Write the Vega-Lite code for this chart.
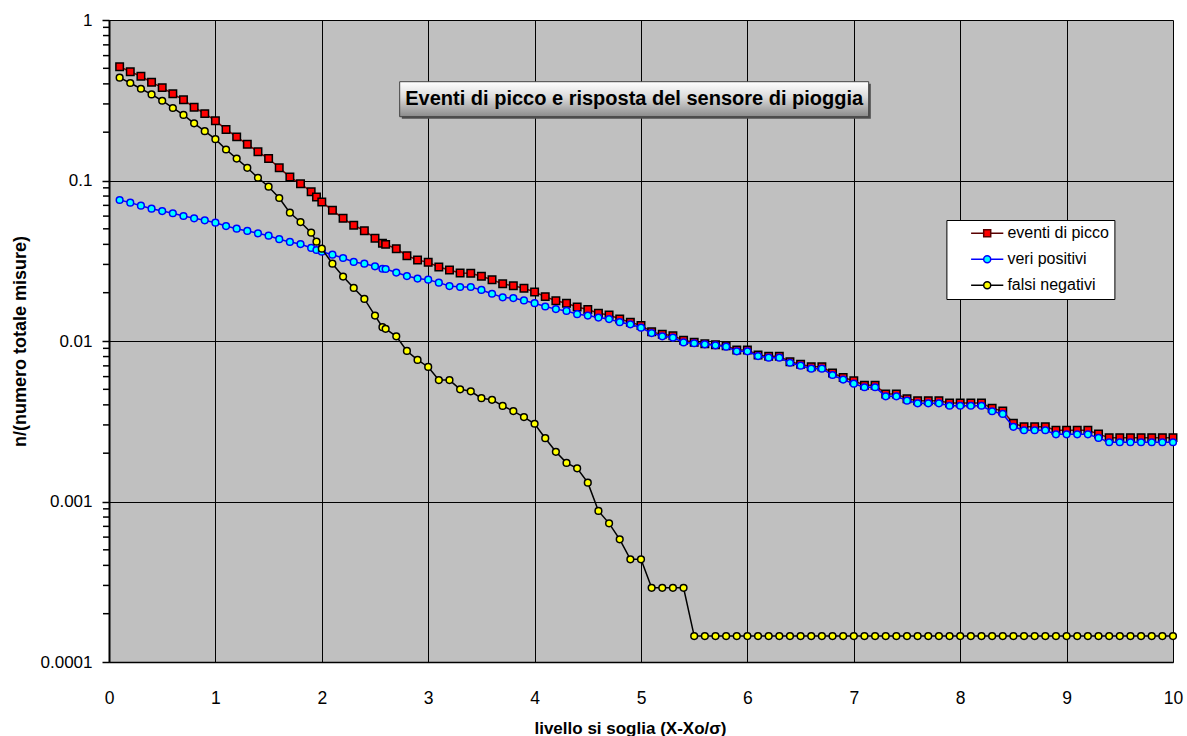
{
"$schema": "https://vega.github.io/schema/vega-lite/v6.json",
"width": 1064, "height": 642,
"autosize": {"type": "none"},
"padding": {"left": 109, "top": 20, "right": 14, "bottom": 74},
"background": "white",
"config": {"view": {"fill": "#C0C0C0", "stroke": null}, "font": "Liberation Sans"},
"datasets": {
"minor": [{"v":0.0002},{"v":0.0003},{"v":0.0004},{"v":0.0005},{"v":0.0006},{"v":0.0007},{"v":0.0008},{"v":0.0009},{"v":0.002},{"v":0.003},{"v":0.004},{"v":0.005},{"v":0.006},{"v":0.007},{"v":0.008},{"v":0.009},{"v":0.02},{"v":0.03},{"v":0.04},{"v":0.05},{"v":0.06},{"v":0.07},{"v":0.08},{"v":0.09},{"v":0.2},{"v":0.3},{"v":0.4},{"v":0.5},{"v":0.6},{"v":0.7},{"v":0.8},{"v":0.9}],
"note": [{"t": "Eventi di picco e risposta del sensore di pioggia", "s": "eventi di picco"}]
},
"data": {"values": [
{"x":0.1,"s":"eventi di picco","v":0.512},{"x":0.2,"s":"eventi di picco","v":0.476},{"x":0.3,"s":"eventi di picco","v":0.446},{"x":0.4,"s":"eventi di picco","v":0.409},{"x":0.5,"s":"eventi di picco","v":0.379},{"x":0.6,"s":"eventi di picco","v":0.347},{"x":0.7,"s":"eventi di picco","v":0.318},{"x":0.8,"s":"eventi di picco","v":0.286},{"x":0.9,"s":"eventi di picco","v":0.261},{"x":1.0,"s":"eventi di picco","v":0.236},
{"x":1.1,"s":"eventi di picco","v":0.208},{"x":1.2,"s":"eventi di picco","v":0.187},{"x":1.3,"s":"eventi di picco","v":0.168},{"x":1.4,"s":"eventi di picco","v":0.151},{"x":1.5,"s":"eventi di picco","v":0.137},{"x":1.6,"s":"eventi di picco","v":0.120},{"x":1.7,"s":"eventi di picco","v":0.105},{"x":1.8,"s":"eventi di picco","v":0.0955},{"x":1.9,"s":"eventi di picco","v":0.0851},{"x":1.95,"s":"eventi di picco","v":0.0789},{"x":2.0,"s":"eventi di picco","v":0.0735},
{"x":2.1,"s":"eventi di picco","v":0.0652},{"x":2.2,"s":"eventi di picco","v":0.0581},{"x":2.3,"s":"eventi di picco","v":0.0526},{"x":2.4,"s":"eventi di picco","v":0.0487},{"x":2.5,"s":"eventi di picco","v":0.0437},{"x":2.57,"s":"eventi di picco","v":0.0406},{"x":2.6,"s":"eventi di picco","v":0.0400},{"x":2.7,"s":"eventi di picco","v":0.0376},{"x":2.8,"s":"eventi di picco","v":0.0340},{"x":2.9,"s":"eventi di picco","v":0.0320},{"x":3.0,"s":"eventi di picco","v":0.0309},
{"x":3.1,"s":"eventi di picco","v":0.0289},{"x":3.2,"s":"eventi di picco","v":0.0277},{"x":3.3,"s":"eventi di picco","v":0.0265},{"x":3.4,"s":"eventi di picco","v":0.0264},{"x":3.5,"s":"eventi di picco","v":0.0253},{"x":3.6,"s":"eventi di picco","v":0.0241},{"x":3.7,"s":"eventi di picco","v":0.0227},{"x":3.8,"s":"eventi di picco","v":0.0221},{"x":3.9,"s":"eventi di picco","v":0.0213},{"x":4.0,"s":"eventi di picco","v":0.0202},
{"x":4.1,"s":"eventi di picco","v":0.0189},{"x":4.2,"s":"eventi di picco","v":0.0178},{"x":4.3,"s":"eventi di picco","v":0.0172},{"x":4.4,"s":"eventi di picco","v":0.0163},{"x":4.5,"s":"eventi di picco","v":0.0157},{"x":4.6,"s":"eventi di picco","v":0.0149},{"x":4.7,"s":"eventi di picco","v":0.0145},{"x":4.8,"s":"eventi di picco","v":0.0137},{"x":4.9,"s":"eventi di picco","v":0.0131},{"x":5.0,"s":"eventi di picco","v":0.0125},
{"x":5.1,"s":"eventi di picco","v":0.0114},{"x":5.2,"s":"eventi di picco","v":0.0110},{"x":5.3,"s":"eventi di picco","v":0.0108},{"x":5.4,"s":"eventi di picco","v":0.0101},{"x":5.5,"s":"eventi di picco","v":0.00981},{"x":5.6,"s":"eventi di picco","v":0.00962},{"x":5.7,"s":"eventi di picco","v":0.00948},{"x":5.8,"s":"eventi di picco","v":0.00935},{"x":5.9,"s":"eventi di picco","v":0.00879},{"x":6.0,"s":"eventi di picco","v":0.00879},
{"x":6.1,"s":"eventi di picco","v":0.00818},{"x":6.2,"s":"eventi di picco","v":0.00803},{"x":6.3,"s":"eventi di picco","v":0.00803},{"x":6.4,"s":"eventi di picco","v":0.00743},{"x":6.5,"s":"eventi di picco","v":0.00716},{"x":6.6,"s":"eventi di picco","v":0.00692},{"x":6.7,"s":"eventi di picco","v":0.00692},{"x":6.8,"s":"eventi di picco","v":0.00632},{"x":6.9,"s":"eventi di picco","v":0.00593},{"x":7.0,"s":"eventi di picco","v":0.00565},
{"x":7.1,"s":"eventi di picco","v":0.0053},{"x":7.2,"s":"eventi di picco","v":0.0053},{"x":7.3,"s":"eventi di picco","v":0.00468},{"x":7.4,"s":"eventi di picco","v":0.00468},{"x":7.5,"s":"eventi di picco","v":0.00437},{"x":7.6,"s":"eventi di picco","v":0.00425},{"x":7.7,"s":"eventi di picco","v":0.00425},{"x":7.8,"s":"eventi di picco","v":0.00425},{"x":7.9,"s":"eventi di picco","v":0.00411},{"x":8.0,"s":"eventi di picco","v":0.00411},
{"x":8.1,"s":"eventi di picco","v":0.00411},{"x":8.2,"s":"eventi di picco","v":0.00411},{"x":8.3,"s":"eventi di picco","v":0.00381},{"x":8.4,"s":"eventi di picco","v":0.00366},{"x":8.5,"s":"eventi di picco","v":0.00307},{"x":8.6,"s":"eventi di picco","v":0.00292},{"x":8.7,"s":"eventi di picco","v":0.00292},{"x":8.8,"s":"eventi di picco","v":0.00292},{"x":8.9,"s":"eventi di picco","v":0.00278},{"x":9.0,"s":"eventi di picco","v":0.00278},
{"x":9.1,"s":"eventi di picco","v":0.00278},{"x":9.2,"s":"eventi di picco","v":0.00278},{"x":9.3,"s":"eventi di picco","v":0.00263},{"x":9.4,"s":"eventi di picco","v":0.0025},{"x":9.5,"s":"eventi di picco","v":0.0025},{"x":9.6,"s":"eventi di picco","v":0.0025},{"x":9.7,"s":"eventi di picco","v":0.0025},{"x":9.8,"s":"eventi di picco","v":0.0025},{"x":9.9,"s":"eventi di picco","v":0.0025},{"x":10.0,"s":"eventi di picco","v":0.0025},

{"x":0.1,"s":"veri positivi","v":0.0756},{"x":0.2,"s":"veri positivi","v":0.0728},{"x":0.3,"s":"veri positivi","v":0.0697},{"x":0.4,"s":"veri positivi","v":0.0667},{"x":0.5,"s":"veri positivi","v":0.0645},{"x":0.6,"s":"veri positivi","v":0.0625},{"x":0.7,"s":"veri positivi","v":0.0601},{"x":0.8,"s":"veri positivi","v":0.0581},{"x":0.9,"s":"veri positivi","v":0.0565},{"x":1.0,"s":"veri positivi","v":0.0546},
{"x":1.1,"s":"veri positivi","v":0.0520},{"x":1.2,"s":"veri positivi","v":0.0501},{"x":1.3,"s":"veri positivi","v":0.0485},{"x":1.4,"s":"veri positivi","v":0.0469},{"x":1.5,"s":"veri positivi","v":0.0453},{"x":1.6,"s":"veri positivi","v":0.0431},{"x":1.7,"s":"veri positivi","v":0.0414},{"x":1.8,"s":"veri positivi","v":0.0402},{"x":1.9,"s":"veri positivi","v":0.0380},{"x":1.95,"s":"veri positivi","v":0.0369},{"x":2.0,"s":"veri positivi","v":0.0360},
{"x":2.1,"s":"veri positivi","v":0.0345},{"x":2.2,"s":"veri positivi","v":0.0329},{"x":2.3,"s":"veri positivi","v":0.0311},{"x":2.4,"s":"veri positivi","v":0.0303},{"x":2.5,"s":"veri positivi","v":0.0292},{"x":2.57,"s":"veri positivi","v":0.0282},{"x":2.6,"s":"veri positivi","v":0.0281},{"x":2.7,"s":"veri positivi","v":0.0267},{"x":2.8,"s":"veri positivi","v":0.0254},{"x":2.9,"s":"veri positivi","v":0.0245},{"x":3.0,"s":"veri positivi","v":0.0241},
{"x":3.1,"s":"veri positivi","v":0.0231},{"x":3.2,"s":"veri positivi","v":0.0220},{"x":3.3,"s":"veri positivi","v":0.0217},{"x":3.4,"s":"veri positivi","v":0.0217},{"x":3.5,"s":"veri positivi","v":0.0208},{"x":3.6,"s":"veri positivi","v":0.0197},{"x":3.7,"s":"veri positivi","v":0.0187},{"x":3.8,"s":"veri positivi","v":0.0185},{"x":3.9,"s":"veri positivi","v":0.0179},{"x":4.0,"s":"veri positivi","v":0.0172},
{"x":4.1,"s":"veri positivi","v":0.0164},{"x":4.2,"s":"veri positivi","v":0.0158},{"x":4.3,"s":"veri positivi","v":0.0154},{"x":4.4,"s":"veri positivi","v":0.0147},{"x":4.5,"s":"veri positivi","v":0.0144},{"x":4.6,"s":"veri positivi","v":0.0140},{"x":4.7,"s":"veri positivi","v":0.0137},{"x":4.8,"s":"veri positivi","v":0.0131},{"x":4.9,"s":"veri positivi","v":0.0127},{"x":5.0,"s":"veri positivi","v":0.0121},
{"x":5.1,"s":"veri positivi","v":0.0112},{"x":5.2,"s":"veri positivi","v":0.0107},{"x":5.3,"s":"veri positivi","v":0.0105},{"x":5.4,"s":"veri positivi","v":0.0098},{"x":5.5,"s":"veri positivi","v":0.00968},{"x":5.6,"s":"veri positivi","v":0.00953},{"x":5.7,"s":"veri positivi","v":0.00940},{"x":5.8,"s":"veri positivi","v":0.00922},{"x":5.9,"s":"veri positivi","v":0.00862},{"x":6.0,"s":"veri positivi","v":0.00862},
{"x":6.1,"s":"veri positivi","v":0.00806},{"x":6.2,"s":"veri positivi","v":0.00787},{"x":6.3,"s":"veri positivi","v":0.00787},{"x":6.4,"s":"veri positivi","v":0.00732},{"x":6.5,"s":"veri positivi","v":0.00702},{"x":6.6,"s":"veri positivi","v":0.00672},{"x":6.7,"s":"veri positivi","v":0.00672},{"x":6.8,"s":"veri positivi","v":0.00614},{"x":6.9,"s":"veri positivi","v":0.00575},{"x":7.0,"s":"veri positivi","v":0.00542},
{"x":7.1,"s":"veri positivi","v":0.00515},{"x":7.2,"s":"veri positivi","v":0.00515},{"x":7.3,"s":"veri positivi","v":0.00452},{"x":7.4,"s":"veri positivi","v":0.00452},{"x":7.5,"s":"veri positivi","v":0.00425},{"x":7.6,"s":"veri positivi","v":0.00409},{"x":7.7,"s":"veri positivi","v":0.00409},{"x":7.8,"s":"veri positivi","v":0.00409},{"x":7.9,"s":"veri positivi","v":0.00395},{"x":8.0,"s":"veri positivi","v":0.00395},
{"x":8.1,"s":"veri positivi","v":0.00395},{"x":8.2,"s":"veri positivi","v":0.00395},{"x":8.3,"s":"veri positivi","v":0.00365},{"x":8.4,"s":"veri positivi","v":0.00351},{"x":8.5,"s":"veri positivi","v":0.00292},{"x":8.6,"s":"veri positivi","v":0.00278},{"x":8.7,"s":"veri positivi","v":0.00278},{"x":8.8,"s":"veri positivi","v":0.00278},{"x":8.9,"s":"veri positivi","v":0.00262},{"x":9.0,"s":"veri positivi","v":0.00262},
{"x":9.1,"s":"veri positivi","v":0.00262},{"x":9.2,"s":"veri positivi","v":0.00262},{"x":9.3,"s":"veri positivi","v":0.00249},{"x":9.4,"s":"veri positivi","v":0.00234},{"x":9.5,"s":"veri positivi","v":0.00234},{"x":9.6,"s":"veri positivi","v":0.00234},{"x":9.7,"s":"veri positivi","v":0.00234},{"x":9.8,"s":"veri positivi","v":0.00234},{"x":9.9,"s":"veri positivi","v":0.00234},{"x":10.0,"s":"veri positivi","v":0.00234},

{"x":0.1,"s":"falsi negativi","v":0.437},{"x":0.2,"s":"falsi negativi","v":0.405},{"x":0.3,"s":"falsi negativi","v":0.373},{"x":0.4,"s":"falsi negativi","v":0.344},{"x":0.5,"s":"falsi negativi","v":0.314},{"x":0.6,"s":"falsi negativi","v":0.283},{"x":0.7,"s":"falsi negativi","v":0.256},{"x":0.8,"s":"falsi negativi","v":0.227},{"x":0.9,"s":"falsi negativi","v":0.203},{"x":1.0,"s":"falsi negativi","v":0.181},
{"x":1.1,"s":"falsi negativi","v":0.156},{"x":1.2,"s":"falsi negativi","v":0.137},{"x":1.3,"s":"falsi negativi","v":0.120},{"x":1.4,"s":"falsi negativi","v":0.104},{"x":1.5,"s":"falsi negativi","v":0.0915},{"x":1.6,"s":"falsi negativi","v":0.0778},{"x":1.7,"s":"falsi negativi","v":0.063},{"x":1.8,"s":"falsi negativi","v":0.0551},{"x":1.9,"s":"falsi negativi","v":0.0473},{"x":1.95,"s":"falsi negativi","v":0.0416},{"x":2.0,"s":"falsi negativi","v":0.0376},
{"x":2.1,"s":"falsi negativi","v":0.0303},{"x":2.2,"s":"falsi negativi","v":0.0252},{"x":2.3,"s":"falsi negativi","v":0.0214},{"x":2.4,"s":"falsi negativi","v":0.0183},{"x":2.5,"s":"falsi negativi","v":0.0144},{"x":2.57,"s":"falsi negativi","v":0.0122},{"x":2.6,"s":"falsi negativi","v":0.0119},{"x":2.7,"s":"falsi negativi","v":0.0107},{"x":2.8,"s":"falsi negativi","v":0.00867},{"x":2.9,"s":"falsi negativi","v":0.00762},{"x":3.0,"s":"falsi negativi","v":0.00689},
{"x":3.1,"s":"falsi negativi","v":0.00571},{"x":3.2,"s":"falsi negativi","v":0.00571},{"x":3.3,"s":"falsi negativi","v":0.0050},{"x":3.4,"s":"falsi negativi","v":0.00486},{"x":3.5,"s":"falsi negativi","v":0.0044},{"x":3.6,"s":"falsi negativi","v":0.0043},{"x":3.7,"s":"falsi negativi","v":0.00394},{"x":3.8,"s":"falsi negativi","v":0.00366},{"x":3.9,"s":"falsi negativi","v":0.00336},{"x":4.0,"s":"falsi negativi","v":0.00305},
{"x":4.1,"s":"falsi negativi","v":0.00248},{"x":4.2,"s":"falsi negativi","v":0.00204},{"x":4.3,"s":"falsi negativi","v":0.00174},{"x":4.4,"s":"falsi negativi","v":0.00161},{"x":4.5,"s":"falsi negativi","v":0.00131},{"x":4.6,"s":"falsi negativi","v":0.000873},{"x":4.7,"s":"falsi negativi","v":0.000731},{"x":4.8,"s":"falsi negativi","v":0.000581},{"x":4.9,"s":"falsi negativi","v":0.000436},{"x":5.0,"s":"falsi negativi","v":0.000436},
{"x":5.1,"s":"falsi negativi","v":0.00029},{"x":5.2,"s":"falsi negativi","v":0.00029},{"x":5.3,"s":"falsi negativi","v":0.00029},{"x":5.4,"s":"falsi negativi","v":0.00029},{"x":5.5,"s":"falsi negativi","v":0.000145},{"x":5.6,"s":"falsi negativi","v":0.000145},{"x":5.7,"s":"falsi negativi","v":0.000145},{"x":5.8,"s":"falsi negativi","v":0.000145},{"x":5.9,"s":"falsi negativi","v":0.000145},{"x":6.0,"s":"falsi negativi","v":0.000145},
{"x":6.1,"s":"falsi negativi","v":0.000145},{"x":6.2,"s":"falsi negativi","v":0.000145},{"x":6.3,"s":"falsi negativi","v":0.000145},{"x":6.4,"s":"falsi negativi","v":0.000145},{"x":6.5,"s":"falsi negativi","v":0.000145},{"x":6.6,"s":"falsi negativi","v":0.000145},{"x":6.7,"s":"falsi negativi","v":0.000145},{"x":6.8,"s":"falsi negativi","v":0.000145},{"x":6.9,"s":"falsi negativi","v":0.000145},{"x":7.0,"s":"falsi negativi","v":0.000145},
{"x":7.1,"s":"falsi negativi","v":0.000145},{"x":7.2,"s":"falsi negativi","v":0.000145},{"x":7.3,"s":"falsi negativi","v":0.000145},{"x":7.4,"s":"falsi negativi","v":0.000145},{"x":7.5,"s":"falsi negativi","v":0.000145},{"x":7.6,"s":"falsi negativi","v":0.000145},{"x":7.7,"s":"falsi negativi","v":0.000145},{"x":7.8,"s":"falsi negativi","v":0.000145},{"x":7.9,"s":"falsi negativi","v":0.000145},{"x":8.0,"s":"falsi negativi","v":0.000145},
{"x":8.1,"s":"falsi negativi","v":0.000145},{"x":8.2,"s":"falsi negativi","v":0.000145},{"x":8.3,"s":"falsi negativi","v":0.000145},{"x":8.4,"s":"falsi negativi","v":0.000145},{"x":8.5,"s":"falsi negativi","v":0.000145},{"x":8.6,"s":"falsi negativi","v":0.000145},{"x":8.7,"s":"falsi negativi","v":0.000145},{"x":8.8,"s":"falsi negativi","v":0.000145},{"x":8.9,"s":"falsi negativi","v":0.000145},{"x":9.0,"s":"falsi negativi","v":0.000145},
{"x":9.1,"s":"falsi negativi","v":0.000145},{"x":9.2,"s":"falsi negativi","v":0.000145},{"x":9.3,"s":"falsi negativi","v":0.000145},{"x":9.4,"s":"falsi negativi","v":0.000145},{"x":9.5,"s":"falsi negativi","v":0.000145},{"x":9.6,"s":"falsi negativi","v":0.000145},{"x":9.7,"s":"falsi negativi","v":0.000145},{"x":9.8,"s":"falsi negativi","v":0.000145},{"x":9.9,"s":"falsi negativi","v":0.000145},{"x":10.0,"s":"falsi negativi","v":0.000145}
]},
"layer": [
  {"transform": [{"filter": "datum.s === 'eventi di picco'"}],
   "mark": {"type": "line", "color": "#800000", "strokeWidth": 1.5},
   "encoding": {
    "x": {"field": "x", "type": "quantitative",
        "scale": {"domain": [0, 10], "nice": false, "zero": false},
        "axis": {"values": [0,1,2,3,4,5,6,7,8,9,10], "format": "d", "title": "livello si soglia (X-Xo/σ)",
                 "grid": true, "gridColor": "black", "gridWidth": 1, "gridOpacity": 1,
                 "ticks": false, "domainColor": "black", "domainWidth": 1.5,
                 "labelFontSize": 17.5, "labelColor": "black", "labelPadding": 27, "labelFlush": false, "labelOverlap": false, "labelFont": "Liberation Sans",
                 "titleFontSize": 17, "titleFontWeight": "bold", "titleColor": "black", "titleFont": "Liberation Sans",
                 "titleX": 521, "titleY": 71, "titleBaseline": "alphabetic", "titleAlign": "center"}},
    "y": {"field": "v", "type": "quantitative",
        "scale": {"type": "log", "domain": [0.0001, 1], "nice": false},
        "axis": {"values": [0.0001,0.001,0.01,0.1,1],
                 "title": "n/(numero totale misure)",
                 "grid": true, "gridColor": "black", "gridWidth": 1, "gridOpacity": 1,
                 "tickSize": 7, "tickColor": "black", "tickWidth": 1.5,
                 "domainColor": "black", "domainWidth": 2,
                 "labelExpr": "toString(datum.value)",
                 "labelFontSize": 17, "labelColor": "black", "labelPadding": 10, "labelOverlap": false, "labelBound": false, "labelFont": "Liberation Sans",
                 "titleFontSize": 18, "titleFontWeight": "bold", "titleColor": "black", "titleFont": "Liberation Sans",
                 "titleX": -80, "titleY": 321, "titleAngle": 270, "titleAlign": "center", "titleBaseline": "bottom"}}}},
  {"data": {"name": "minor"},
   "mark": {"type": "tick", "orient": "horizontal", "size": 6, "thickness": 1.5, "color": "black", "xOffset": -3, "opacity": 1},
   "encoding": {"x": {"datum": 0.0001, "type": "quantitative", "scale": {"domain": [0, 10], "nice": false, "zero": false}},
                "y": {"field": "v", "type": "quantitative", "scale": {"type": "log", "domain": [0.0001, 1], "nice": false}}}},
  {"transform": [{"filter": "datum.s === 'eventi di picco'"}],
   "mark": {"type": "point", "shape": "square", "filled": true, "fill": "#FF0000", "stroke": "#000000", "size": 56, "strokeWidth": 1.5, "opacity": 1},
   "encoding": {
     "x": {"field": "x", "type": "quantitative", "scale": {"domain": [0, 10], "nice": false, "zero": false}},
     "y": {"field": "v", "type": "quantitative", "scale": {"type": "log", "domain": [0.0001, 1], "nice": false}}}},
  {"transform": [{"filter": "datum.s === 'veri positivi'"}],
   "mark": {"type": "line", "color": "#0000FF", "strokeWidth": 1.5},
   "encoding": {
     "x": {"field": "x", "type": "quantitative", "scale": {"domain": [0, 10], "nice": false, "zero": false}},
     "y": {"field": "v", "type": "quantitative", "scale": {"type": "log", "domain": [0.0001, 1], "nice": false}}}},
  {"transform": [{"filter": "datum.s === 'veri positivi'"}],
   "mark": {"type": "point", "shape": "circle", "filled": true, "fill": "#00FFFF", "stroke": "#0000FF", "size": 45, "strokeWidth": 1.5, "opacity": 1},
   "encoding": {
     "x": {"field": "x", "type": "quantitative", "scale": {"domain": [0, 10], "nice": false, "zero": false}},
     "y": {"field": "v", "type": "quantitative", "scale": {"type": "log", "domain": [0.0001, 1], "nice": false}}}},
  {"transform": [{"filter": "datum.s === 'falsi negativi'"}],
   "mark": {"type": "line", "color": "#000000", "strokeWidth": 1.5},
   "encoding": {
     "x": {"field": "x", "type": "quantitative", "scale": {"domain": [0, 10], "nice": false, "zero": false}},
     "y": {"field": "v", "type": "quantitative", "scale": {"type": "log", "domain": [0.0001, 1], "nice": false}}}},
  {"transform": [{"filter": "datum.s === 'falsi negativi'"}],
   "mark": {"type": "point", "shape": "circle", "filled": true, "fill": "#FFFF00", "stroke": "#000000", "size": 45, "strokeWidth": 1.5, "opacity": 1},
   "encoding": {
     "x": {"field": "x", "type": "quantitative", "scale": {"domain": [0, 10], "nice": false, "zero": false}},
     "y": {"field": "v", "type": "quantitative", "scale": {"type": "log", "domain": [0.0001, 1], "nice": false}}}},
  {"data": {"name": "note"},
   "transform": [{"filter": "false"}],
   "mark": {"type": "point", "filled": true, "opacity": 1},
   "encoding": {
     "x": {"datum": 5, "type": "quantitative", "scale": {"domain": [0, 10], "nice": false, "zero": false}},
     "y": {"datum": 0.01, "type": "quantitative", "scale": {"type": "log", "domain": [0.0001, 1], "nice": false}},
     "shape": {"field": "s", "type": "nominal", "scale": {"domain": ["eventi di picco","veri positivi","falsi negativi"],
               "range": ["M-4.6,0L-1,0M1,0L4.6,0M-1,-1L1,-1L1,1L-1,1Z", "M-4.6,0L-1,0M1,0L4.6,0M-1,0A1,1,0,1,0,1,0A1,1,0,1,0,-1,0Z", "M-4.6,0L-1,0M1,0L4.6,0M-1,0A1,1,0,1,0,1,0A1,1,0,1,0,-1,0Z"]}},
     "stroke": {"field": "s", "type": "nominal", "scale": {"domain": ["eventi di picco","veri positivi","falsi negativi"], "range": ["#5A0000","#0000FF","#000000"]}},
     "fill": {"field": "s", "type": "nominal", "scale": {"domain": ["eventi di picco","veri positivi","falsi negativi"], "range": ["#FF0000","#00FFFF","#FFFF00"]},
       "legend": {"title": null, "orient": "none", "legendX": 837.4, "legendY": 200, "direction": "vertical",
                  "fillColor": "white", "strokeColor": "black", "padding": 5.3, "cornerRadius": 0,
                  "symbolSize": 49, "symbolOffset": 27.5, "symbolStrokeWidth": 1.5, "labelOffset": 12.2,
                  "labelFontSize": 16, "labelColor": "black", "labelFont": "Liberation Sans", "rowPadding": 10,
                  "labelExpr": "datum.label + '\u00a0\u00a0\u00a0\u00a0\u00a0\u00a0\u00a0\u00a0\u00a0'"}}}},
  {"data": {"name": "note"},
   "mark": {"type": "rect", "fill": "#505050"},
   "encoding": {"x": {"datum": 2.752, "type": "quantitative", "scale": {"domain": [0, 10], "nice": false, "zero": false}}, "x2": {"datum": 7.16},
                "y": {"datum": 0.401, "type": "quantitative", "scale": {"type": "log", "domain": [0.0001, 1], "nice": false}}, "y2": {"datum": 0.2427}}},
  {"data": {"name": "note"},
   "mark": {"type": "rect", "stroke": "#404040", "strokeWidth": 1,
            "fill": {"gradient": "linear", "x1": 0, "y1": 0, "x2": 0, "y2": 1,
                     "stops": [{"offset": 0, "color": "#FFFFFF"}, {"offset": 0.45, "color": "#DADADA"}, {"offset": 1, "color": "#8A8A8A"}]}},
   "encoding": {"x": {"datum": 2.732, "type": "quantitative", "scale": {"domain": [0, 10], "nice": false, "zero": false}}, "x2": {"datum": 7.14},
                "y": {"datum": 0.4126, "type": "quantitative", "scale": {"type": "log", "domain": [0.0001, 1], "nice": false}}, "y2": {"datum": 0.2497}}},
  {"data": {"name": "note"},
   "mark": {"type": "text", "fontSize": 20, "fontWeight": "bold", "font": "Liberation Sans", "color": "black", "align": "center", "baseline": "middle"},
   "encoding": {"x": {"datum": 4.936, "type": "quantitative", "scale": {"domain": [0, 10], "nice": false, "zero": false}},
                "y": {"datum": 0.322, "type": "quantitative", "scale": {"type": "log", "domain": [0.0001, 1], "nice": false}},
                "text": {"field": "t"}}}
]
}
